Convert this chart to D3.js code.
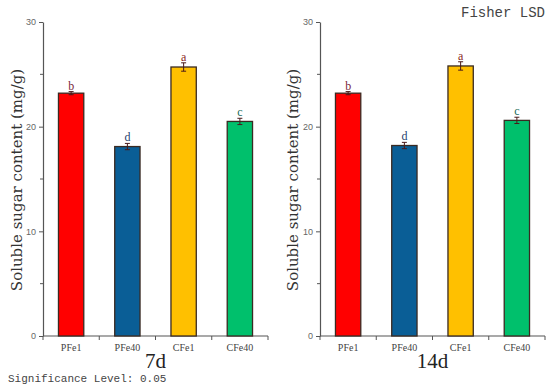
<!DOCTYPE html>
<html>
<head>
<meta charset="utf-8">
<script src="https://cdn.jsdelivr.net/npm/d3@7"></script>
<style>
  body { margin: 0; background: #fff; }
  svg { display: block; }
</style>
</head>
<body>
<div id="chart"></div>
<script>
const groups = ["PFe1", "PFe40", "CFe1", "CFe40"];
const barColors = ["#ff0000", "#0a5e96", "#ffc000", "#00c06c"];
const letterColors = ["#7a2a3a", "#1f3f6e", "#8a2a1a", "#1a6a5a"];

const values7d  = [23.2, 18.1, 25.7, 20.5];
const errors7d  = [0.15, 0.3, 0.4, 0.3];
const letters7d = ["b", "d", "a", "c"];

const values14d  = [23.2, 18.2, 25.8, 20.6];
const errors14d  = [0.15, 0.3, 0.4, 0.3];
const letters14d = ["b", "d", "a", "c"];

const yTicks = [0, 10, 20, 30];
const yMinor = [5, 15, 25];

const W = 550, H = 390;
const svg = d3.select("#chart").append("svg")
  .attr("width", W).attr("height", H);

function drawPanel(left, right, values, errors, letters, title, labelX) {
  const top = 22, bottom = 336;
  const y = d3.scaleLinear().domain([0, 30]).range([bottom, top]);
  const x = d3.scaleBand().domain(groups).range([left, right]).paddingInner(0.55).paddingOuter(0.275);
  const g = svg.append("g");

  // y axis
  const yAx = g.append("g").attr("transform", `translate(${left},0)`)
    .call(d3.axisLeft(y).tickValues(yTicks).tickSize(4).tickSizeOuter(0));
  yAx.select(".domain").attr("stroke", "#555").attr("stroke-width", 1.2);
  yAx.selectAll(".tick line").attr("stroke", "#555");
  yAx.selectAll("text").attr("fill", "#666").style("font", "9px 'Liberation Sans', Arial, sans-serif");
  g.append("g").selectAll("line").data(yMinor).join("line")
    .attr("x1", left - 3).attr("x2", left)
    .attr("y1", d => y(d)).attr("y2", d => y(d))
    .attr("stroke", "#555");

  // x axis: ticks at band boundaries
  g.append("line").attr("x1", left).attr("x2", right)
    .attr("y1", bottom).attr("y2", bottom).attr("stroke", "#555").attr("stroke-width", 1.2);
  const step = x.step();
  const bounds = d3.range(groups.length + 1).map(i => left + i * step);
  g.append("g").selectAll("line").data(bounds).join("line")
    .attr("x1", d => d).attr("x2", d => d)
    .attr("y1", bottom).attr("y2", bottom + 4).attr("stroke", "#555");
  g.append("g").selectAll("text").data(groups).join("text")
    .attr("x", d => x(d) + x.bandwidth() / 2).attr("y", bottom + 15)
    .attr("text-anchor", "middle").attr("fill", "#444")
    .style("font", "10px 'Liberation Serif', serif")
    .text(d => d);

  // bars
  g.append("g").selectAll("rect").data(groups).join("rect")
    .attr("x", d => x(d)).attr("width", x.bandwidth())
    .attr("y", (d, i) => y(values[i])).attr("height", (d, i) => bottom - y(values[i]))
    .attr("fill", (d, i) => barColors[i])
    .attr("stroke", "#3a2a22").attr("stroke-width", 1.3);

  // error bars
  const eb = g.append("g").selectAll("g").data(groups).join("g")
    .attr("stroke", "#4a1a1a").attr("stroke-width", 1);
  eb.append("line")
    .attr("x1", d => x(d) + x.bandwidth() / 2).attr("x2", d => x(d) + x.bandwidth() / 2)
    .attr("y1", (d, i) => y(values[i] + errors[i])).attr("y2", (d, i) => y(values[i] - errors[i]));
  eb.append("line")
    .attr("x1", d => x(d) + x.bandwidth() / 2 - 2.5).attr("x2", d => x(d) + x.bandwidth() / 2 + 2.5)
    .attr("y1", (d, i) => y(values[i] + errors[i])).attr("y2", (d, i) => y(values[i] + errors[i]));
  eb.append("line")
    .attr("x1", d => x(d) + x.bandwidth() / 2 - 2.5).attr("x2", d => x(d) + x.bandwidth() / 2 + 2.5)
    .attr("y1", (d, i) => y(values[i] - errors[i])).attr("y2", (d, i) => y(values[i] - errors[i]));

  // significance letters
  g.append("g").selectAll("text").data(groups).join("text")
    .attr("x", d => x(d) + x.bandwidth() / 2)
    .attr("y", (d, i) => y(values[i] + errors[i]) - 2)
    .attr("text-anchor", "middle")
    .attr("fill", (d, i) => letterColors[i])
    .style("font", "12px 'Liberation Serif', serif")
    .text((d, i) => letters[i]);

  // y label
  g.append("text")
    .attr("transform", `translate(${labelX},${180}) rotate(-90)`)
    .attr("text-anchor", "middle").attr("fill", "#333")
    .style("font", "15px 'DejaVu Serif', serif")
    .text("Soluble sugar content (mg/g)");

  // panel title
  g.append("text")
    .attr("x", (left + right) / 2).attr("y", 368)
    .attr("text-anchor", "middle").attr("fill", "#222")
    .style("font", "21px 'Liberation Serif', serif")
    .text(title);
}

drawPanel(43, 268, values7d, errors7d, letters7d, "7d", 22);
drawPanel(320, 545, values14d, errors14d, letters14d, "14d", 298);

svg.append("text").attr("x", 8).attr("y", 382)
  .attr("fill", "#444")
  .style("font", "11px 'Liberation Mono', monospace")
  .text("Significance Level: 0.05");

svg.append("text").attr("x", 545).attr("y", 17)
  .attr("text-anchor", "end").attr("fill", "#444")
  .style("font", "14px 'Liberation Mono', monospace")
  .text("Fisher LSD");
</script>
</body>
</html>
